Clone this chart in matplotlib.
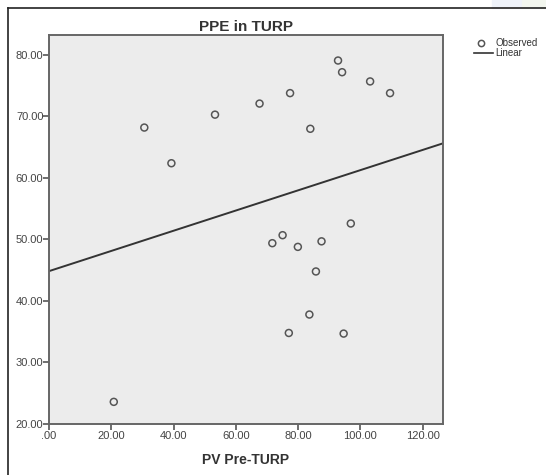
import numpy as np
import matplotlib
matplotlib.use("Agg")
import matplotlib.pyplot as plt
from matplotlib.lines import Line2D
from matplotlib.patches import Rectangle

pv_pre_turp = [30.6, 39.3, 53.3, 67.6, 77.4, 83.9, 92.8, 94.1, 103.1, 109.5,
               96.9, 71.7, 75.0, 79.9, 87.5, 85.7, 83.6, 77.0, 94.6, 20.8]
ppe = [68.2, 62.4, 70.3, 72.1, 73.8, 68.0, 79.1, 77.2, 75.7, 73.8,
       52.6, 49.4, 50.7, 48.8, 49.7, 44.8, 37.8, 34.8, 34.7, 23.6]
x_ticks = [0, 20, 40, 60, 80, 100, 120]
y_ticks = [20, 30, 40, 50, 60, 70, 80]
x_tick_labels = [".00", "20.00", "40.00", "60.00", "80.00", "100.00", "120.00"]
y_tick_labels = ["20.00", "30.00", "40.00", "50.00", "60.00", "70.00", "80.00"]

plt.rcParams['font.family'] = ['Liberation Sans', 'DejaVu Sans']

W, H = 546, 475
fig = plt.figure(figsize=(W / 100, H / 100), dpi=100)
fig.patch.set_facecolor('white')

# outer frame (left and top lines) and faint corner tint
fig.add_artist(Rectangle((492 / W, 1 - 8 / H), 30 / W, 8 / H, color='#eef2fa', transform=fig.transFigure, zorder=0))
fig.add_artist(Rectangle((522 / W, 1 - 8 / H), 24 / W, 8 / H, color='#f2f6ee', transform=fig.transFigure, zorder=0))
fig.add_artist(Line2D([8 / W, 8 / W], [0, 1 - 8 / H], color='#222222', lw=1.2, transform=fig.transFigure))
fig.add_artist(Line2D([8 / W, 1], [1 - 8 / H, 1 - 8 / H], color='#222222', lw=1.2, transform=fig.transFigure))

left, right, top, bottom = 49, 443, 35, 424
ax = fig.add_axes([left / W, 1 - bottom / H, (right - left) / W, (bottom - top) / H])
ax.set_facecolor('#ececec')

xlim = (0, 126.5)
ylim = (20, 83.25)

ax.scatter(pv_pre_turp, ppe, s=25, facecolors='none', edgecolors='#555555', linewidths=1.1, zorder=3)

slope, intercept = np.polyfit(pv_pre_turp, ppe, 1)
xs = np.array(xlim)
ax.plot(xs, intercept + slope * xs, color='#333333', lw=1.4, zorder=2)

ax.set_xlim(*xlim)
ax.set_ylim(*ylim)
ax.set_xticks(x_ticks)
ax.set_xticklabels(x_tick_labels)
ax.set_yticks(y_ticks)
ax.set_yticklabels(y_tick_labels)
ax.tick_params(direction='out', length=4, width=1.2, color='#555555', labelsize=8, labelcolor='#444444', pad=1)
ax.tick_params(axis='y', pad=0)
for s in ax.spines.values():
    s.set_color('#666666')
    s.set_linewidth(1.4)

ax.set_title("PPE in TURP", fontsize=11, fontweight='bold', color='#333333', pad=3)
ax.set_xlabel("PV Pre-TURP", fontsize=10, fontweight='bold', color='#333333', labelpad=9)

# legend
fig.text(496 / W, 1 - 43 / H, "Observed", fontsize=7, color='#333333', va='center', ha='left')
fig.text(495 / W, 1 - 53 / H, "Linear", fontsize=7, color='#333333', va='center', ha='left')
fig.add_artist(Line2D([481 / W], [1 - 43 / H], marker='o', markersize=4.5, markerfacecolor='none',
                      markeredgecolor='#555555', markeredgewidth=1.1, transform=fig.transFigure))
fig.add_artist(Line2D([474 / W, 493 / W], [1 - 53 / H, 1 - 53 / H], color='#333333', lw=1.2, transform=fig.transFigure))

fig.savefig("out.png", dpi=100)
